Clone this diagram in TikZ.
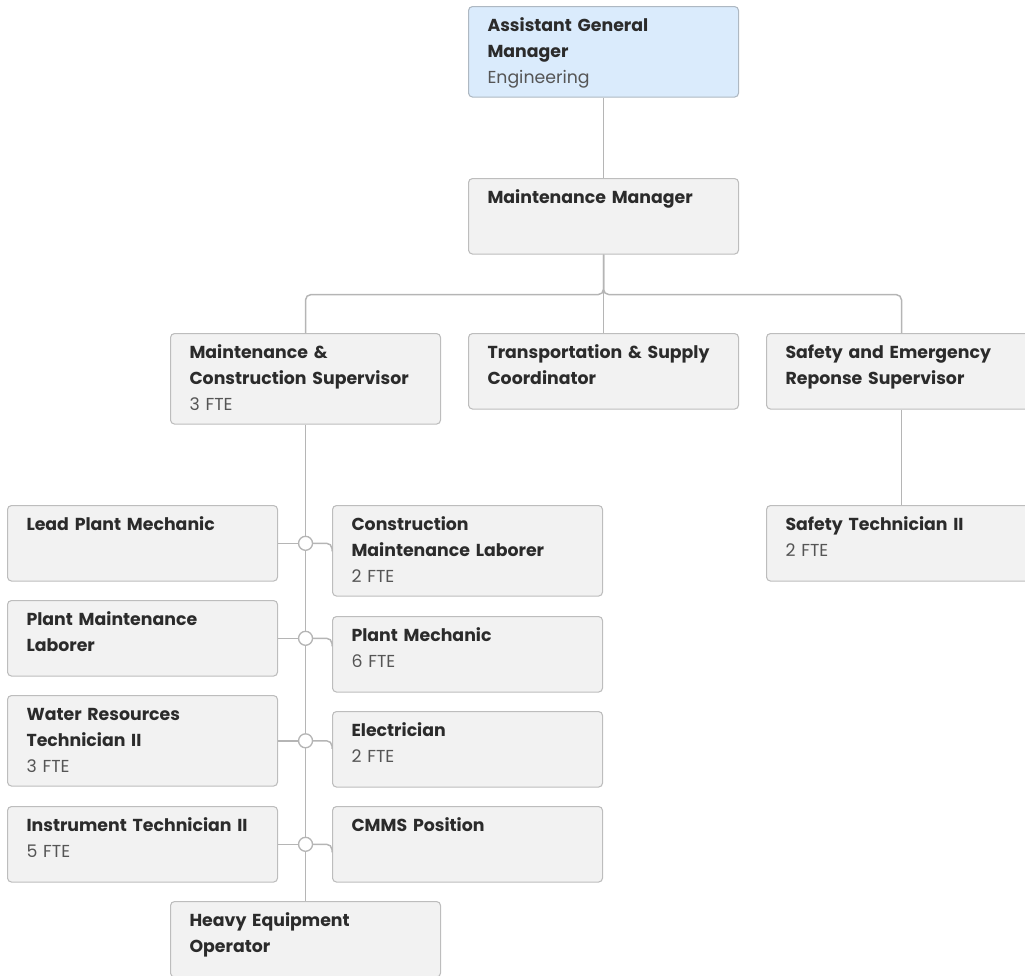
\documentclass[tikz,border=0pt]{standalone}
\usepackage{fontspec}
\setmainfont{Poppins}

\definecolor{boxfill}{HTML}{F2F2F2}
\definecolor{boxline}{HTML}{BDBDBD}
\definecolor{headfill}{HTML}{DAEBFC}
\definecolor{headline}{HTML}{AEB8C2}
\definecolor{wire}{HTML}{B5B5B5}
\definecolor{titletext}{HTML}{2B2B2B}
\definecolor{subtext}{HTML}{555555}

\tikzset{
  post/.style={draw=boxline, fill=boxfill, line width=0.8pt, rounded corners=3pt,
    anchor=north west, text width=174pt, inner xsep=14.25pt, inner ysep=5pt,
    align=left, text height=13.65pt, text depth=33pt, text=titletext,
    font=\fontsize{13}{19.5}\selectfont\bfseries},
  tall/.style={text depth=44.25pt},
  head/.style={fill=headfill, draw=headline},
  joint/.style={circle, draw=wire, fill=white, line width=1pt, minimum size=10.5pt, inner sep=0pt},
  link/.style={draw=wire, line width=1.1pt, rounded corners=4pt}
}
\newcommand{\fte}[1]{{\mdseries\color{subtext}#1}}

\begin{document}
\begin{tikzpicture}[x=0.75pt, y=-0.75pt]
    \useasboundingbox (0,0) rectangle (1025,975);

    % management
    \node[post, tall, head] (agm) at (468,6) {Assistant General\\Manager\\\fte{Engineering}};
    \node[post] (mm) at (468,178) {Maintenance Manager};

    % supervisors
    \node[post, tall] (mcs) at (170,333) {Maintenance \&\\Construction Supervisor\\\fte{3 FTE}};
    \node[post] (tsc) at (468,333) {Transportation \& Supply\\Coordinator};
    \node[post] (ses) at (766,333) {Safety and Emergency\\Reponse Supervisor};
    \node[post] (st) at (766,505) {Safety Technician II\\\fte{2 FTE}};

    % maintenance crew
    \node[post] (lpm) at (7,505) {Lead Plant Mechanic};
    \node[post, tall] (cml) at (332,505) {Construction\\Maintenance Laborer\\\fte{2 FTE}};
    \node[post] (pml) at (7,600) {Plant Maintenance\\Laborer};
    \node[post] (pm) at (332,616) {Plant Mechanic\\\fte{6 FTE}};
    \node[post, tall] (wrt) at (7,695) {Water Resources\\Technician II\\\fte{3 FTE}};
    \node[post] (el) at (332,711) {Electrician\\\fte{2 FTE}};
    \node[post] (it) at (7,806) {Instrument Technician II\\\fte{5 FTE}};
    \node[post] (cmms) at (332,806) {CMMS Position};
    \node[post] (heo) at (170,901) {Heavy Equipment\\Operator};

    \draw[link] (agm.south) -- (mm.north);
    \draw[link] (mm.south) -- (tsc.north);
    \foreach \to in {mcs,ses}
        \draw[link] (mm.south) -- ++(0,40) -| (\to.north);
    \draw[link] (ses.south) -- (st.north);
    \draw[link] (mcs.south) -- (heo.north);

    \foreach \left/\right [count=\i] in {lpm/cml,pml/pm,wrt/el,it/cmms} {
        \draw[link] (\left.east) -- (mcs.south |- \left.east);
        \draw[link] (mcs.south |- \left.east) -| ([yshift=-6pt]\left.east -| \right.west);
        \node[joint] (j\i) at (mcs.south |- \left.east) {};
    }
\end{tikzpicture}
\end{document}
